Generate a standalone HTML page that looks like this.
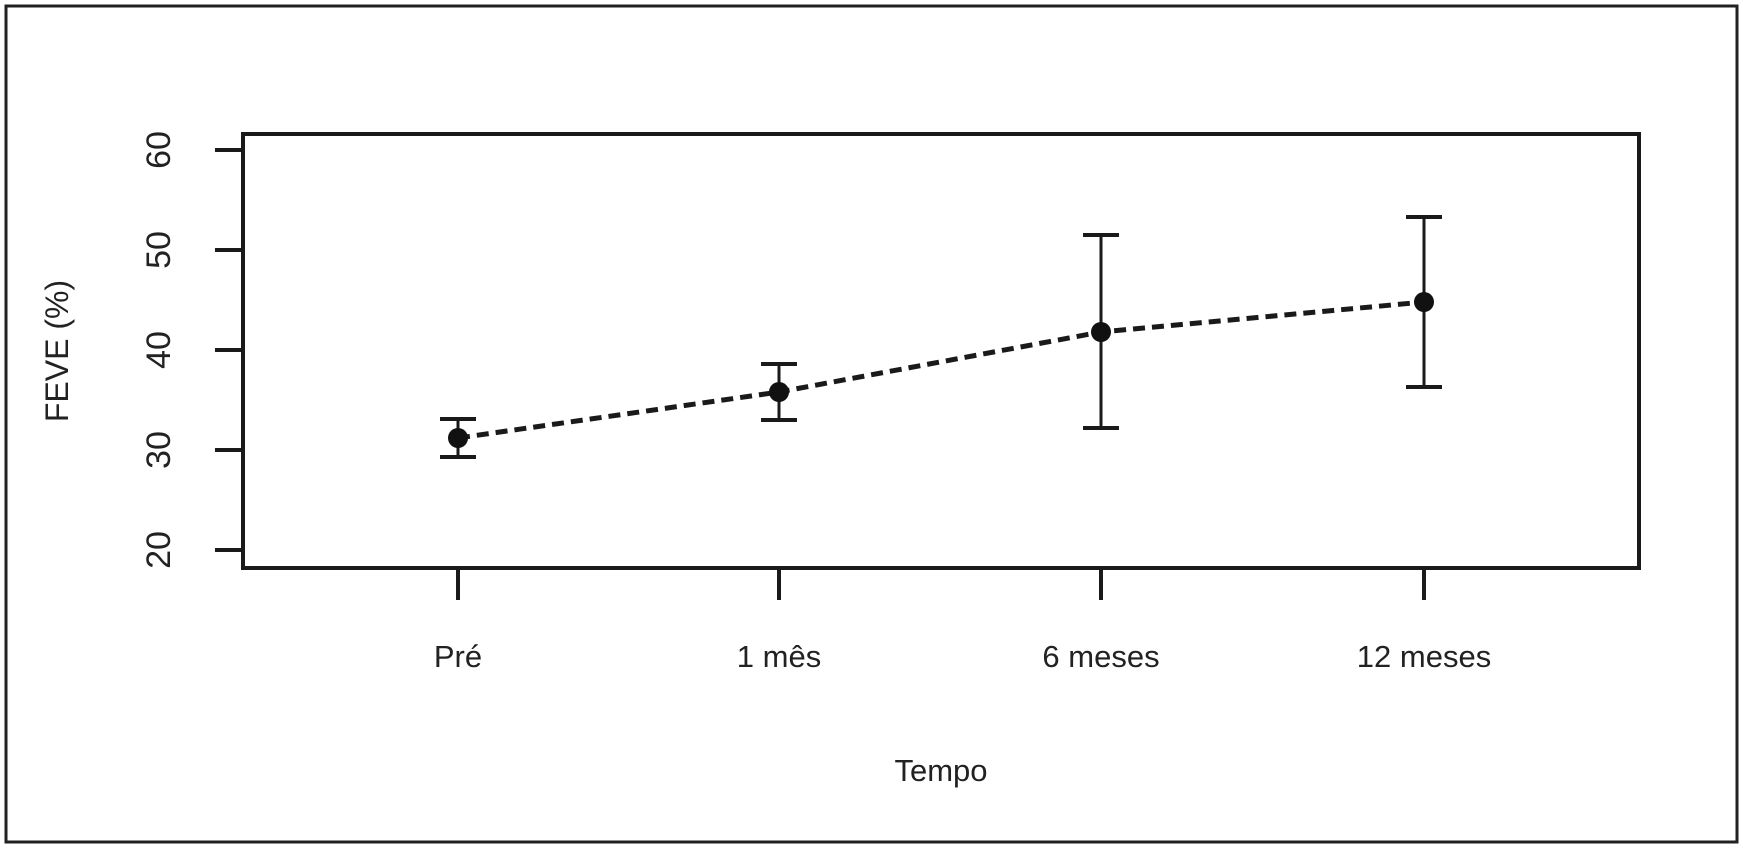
<!DOCTYPE html>
<html><head><meta charset="utf-8"><style>
html,body{margin:0;padding:0;background:#fff;}
svg{display:block;font-family:"Liberation Sans",sans-serif;}
</style></head><body>
<svg id="chart" width="1743" height="849" viewBox="0 0 1743 849">
<rect x="6" y="6" width="1731" height="836" fill="none" stroke="#222" stroke-width="3"/>
<g id="plot"></g>
</svg>
<script>
const categories = ["Pré", "1 mês", "6 meses", "12 meses"];
const means = [31.2, 35.8, 41.8, 44.8];
const lower = [29.3, 33.0, 32.2, 36.3];
const upper = [33.1, 38.6, 51.5, 53.3];
const yTicks = [20, 30, 40, 50, 60];

const NS = "http://www.w3.org/2000/svg";
const g = document.getElementById("plot");
const L = 243, R = 1639, T = 134, B = 568;
const xPos = [458, 779, 1101, 1424];
function x(i){ return L + (xPos[i] - L); }
function y(v){ return 550 - (v - 20) * 10.0; }
function mk(tag, attrs){ const e = document.createElementNS(NS, tag); for (const k in attrs) e.setAttribute(k, attrs[k]); g.appendChild(e); return e; }

let frame = mk("rect", {x:L, y:T, width:R-L, height:B-T, fill:"none", stroke:"#1a1a1a", "stroke-width":4});



yTicks.forEach(v => {
  let t = mk("line", {x1:215, x2:L, y1:y(v), y2:y(v), stroke:"#1a1a1a", "stroke-width":4});
  
  
  let lb = mk("text", {x:0, y:0, transform:`translate(170,${y(v)}) rotate(-90)`, "text-anchor":"middle", "font-size":34, fill:"#222"});
  lb.textContent = v;
  
  
});

categories.forEach((c, i) => {
  let t = mk("line", {x1:x(i), x2:x(i), y1:B, y2:600, stroke:"#1a1a1a", "stroke-width":4});
  
  
  let lb = mk("text", {x:x(i), y:667, "text-anchor":"middle", "font-size":31, fill:"#222"});
  lb.textContent = c;
  
  
});

let pts = means.map((m, i) => `${x(i)},${y(m)}`).join(" ");
let line = mk("polyline", {points:pts, fill:"none", stroke:"#1a1a1a", "stroke-width":5, "stroke-dasharray":"12,7"});



means.forEach((m, i) => {
  let eb = mk("line", {x1:x(i), x2:x(i), y1:y(lower[i]), y2:y(upper[i]), stroke:"#1a1a1a", "stroke-width":3});
  
  
  [lower[i], upper[i]].forEach(v => {
    let cap = mk("line", {x1:x(i)-18, x2:x(i)+18, y1:y(v), y2:y(v), stroke:"#1a1a1a", "stroke-width":4});
    
    
  });
  let p = mk("circle", {cx:x(i), cy:y(m), r:10, fill:"#111"});
  
  
});

let yt = mk("text", {x:0, y:0, transform:"translate(68,351) rotate(-90)", "text-anchor":"middle", "font-size":32, fill:"#222"});
yt.textContent = "FEVE (%)";


let xt = mk("text", {x:941, y:781, "text-anchor":"middle", "font-size":31, fill:"#222"});
xt.textContent = "Tempo";


</script>
</body></html>
